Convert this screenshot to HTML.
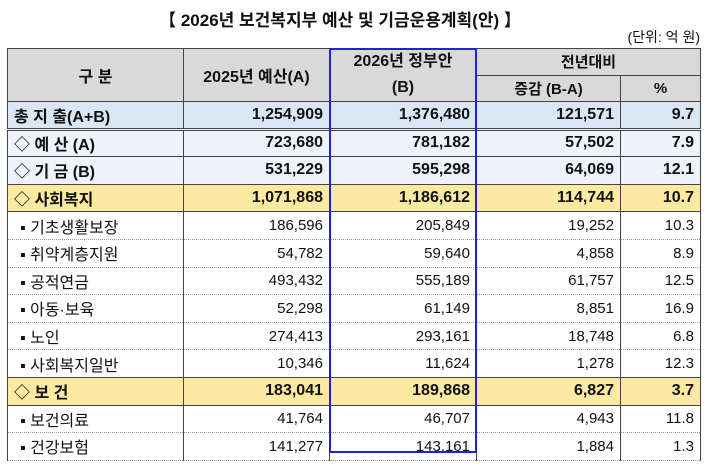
<!DOCTYPE html>
<html><head><meta charset="utf-8"><style>
body{margin:0;background:#fff;width:710px;height:464px;position:relative;overflow:hidden;font-family:"Liberation Sans","Noto Sans CJK KR",sans-serif;color:#111}
#title{position:absolute;left:0;top:6px;width:680px;text-align:center;font-size:17px;font-weight:bold}
#unit{position:absolute;right:10px;top:27px;font-size:14px}
table{position:absolute;left:7px;top:48px;border-collapse:collapse;table-layout:fixed;font-size:15px}
td{border:1px solid #444;padding:0 6px;height:27.6px;white-space:nowrap;box-sizing:border-box}
td.n{text-align:right}
tr.sub td{border-top:1px dotted #999;border-bottom:1px dotted #999}
tr.sub td:first-child{padding-left:12px;font-size:16px}
.hd td{background:#d9d9d9;text-align:center;font-weight:bold;height:25.5px}
.tot td{background:#dbe6f4;font-weight:bold;border-bottom:3px double #444;font-size:16px}
.lb td{background:#eef3fb;font-weight:bold;font-size:16px}
.yl td{background:#fce9a2;font-weight:bold;font-size:16px}
td.pc{border-left:1px dotted #999}
#blue{position:absolute;left:329px;top:48px;width:148px;height:405px;border:2px solid #1f1fe8;box-sizing:border-box;pointer-events:none}
</style></head><body>
<div id="title">【 2026년 보건복지부 예산 및 기금운용계획(안) 】</div>
<div id="unit">(단위: 억 원)</div>
<table>
<colgroup><col style="width:176px"><col style="width:146px"><col style="width:147px"><col style="width:144px"><col style="width:80px"></colgroup>
<tr class="hd"><td rowspan="2" style="font-size:16px">구 분</td><td rowspan="2" style="font-size:16px">2025년 예산(A)</td><td rowspan="2" style="font-size:16px;line-height:26px">2026년 정부안<br>(B)</td><td colspan="2">전년대비</td></tr>
<tr class="hd"><td>증감 (B-A)</td><td>%</td></tr>
<tr class="tot"><td>총 지 출(A+B)</td><td class="n">1,254,909</td><td class="n">1,376,480</td><td class="n">121,571</td><td class="n pc">9.7</td></tr>
<tr class="lb"><td>◇ 예 산 (A)</td><td class="n">723,680</td><td class="n">781,182</td><td class="n">57,502</td><td class="n pc">7.9</td></tr>
<tr class="lb"><td>◇ 기 금 (B)</td><td class="n">531,229</td><td class="n">595,298</td><td class="n">64,069</td><td class="n pc">12.1</td></tr>
<tr class="yl"><td>◇ 사회복지</td><td class="n">1,071,868</td><td class="n">1,186,612</td><td class="n">114,744</td><td class="n pc">10.7</td></tr>
<tr class="sub"><td>▪ 기초생활보장</td><td class="n">186,596</td><td class="n">205,849</td><td class="n">19,252</td><td class="n pc">10.3</td></tr>
<tr class="sub"><td>▪ 취약계층지원</td><td class="n">54,782</td><td class="n">59,640</td><td class="n">4,858</td><td class="n pc">8.9</td></tr>
<tr class="sub"><td>▪ 공적연금</td><td class="n">493,432</td><td class="n">555,189</td><td class="n">61,757</td><td class="n pc">12.5</td></tr>
<tr class="sub"><td>▪ 아동·보육</td><td class="n">52,298</td><td class="n">61,149</td><td class="n">8,851</td><td class="n pc">16.9</td></tr>
<tr class="sub"><td>▪ 노인</td><td class="n">274,413</td><td class="n">293,161</td><td class="n">18,748</td><td class="n pc">6.8</td></tr>
<tr class="sub"><td>▪ 사회복지일반</td><td class="n">10,346</td><td class="n">11,624</td><td class="n">1,278</td><td class="n pc">12.3</td></tr>
<tr class="yl"><td>◇ 보 건</td><td class="n">183,041</td><td class="n">189,868</td><td class="n">6,827</td><td class="n pc">3.7</td></tr>
<tr class="sub"><td>▪ 보건의료</td><td class="n">41,764</td><td class="n">46,707</td><td class="n">4,943</td><td class="n pc">11.8</td></tr>
<tr class="sub"><td>▪ 건강보험</td><td class="n">141,277</td><td class="n">143,161</td><td class="n">1,884</td><td class="n pc">1.3</td></tr>
</table>
<div id="blue"></div>
</body></html>
